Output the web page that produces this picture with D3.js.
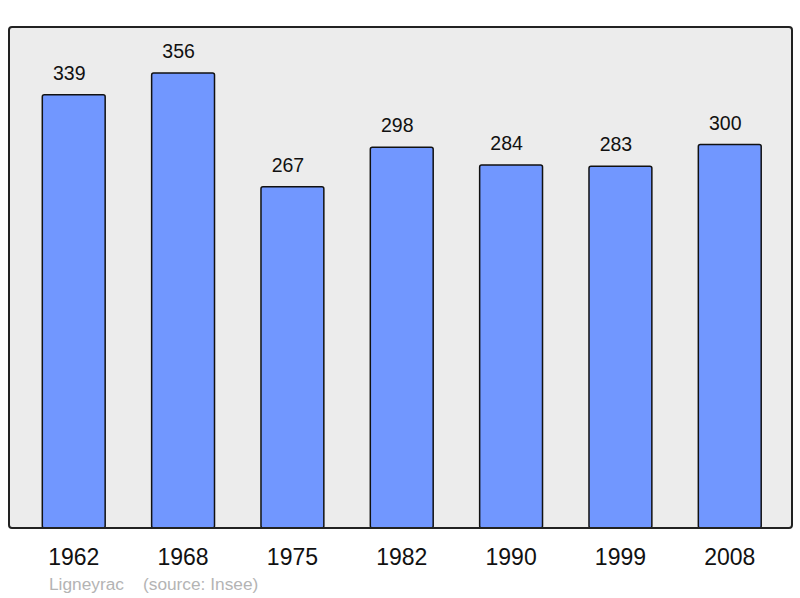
<!DOCTYPE html>
<html>
<head>
<meta charset="utf-8">
<script src="https://cdn.jsdelivr.net/npm/d3@7"></script>
<style>
  body { margin: 0; background: #fff; }
  text { font-family: "Liberation Sans", Arial, sans-serif; }
</style>
</head>
<body>
<script>
const years = ['1962', '1968', '1975', '1982', '1990', '1999', '2008'];
const population = [339, 356, 267, 298, 284, 283, 300];
const commune = 'Ligneyrac';
const source = '(source: Insee)';

const svgValues = {
    width: 800,
    height: 598,
    frame: { left: 9, right: 792, top: 27, bottom: 528 }
}

const svg = d3.select('body')
    .append('svg')
    .attr('width', svgValues.width)
    .attr('height', svgValues.height)

const f = svgValues.frame;

svg.append('rect') // plot background
    .attr('x', f.left)
    .attr('y', f.top)
    .attr('width', f.right - f.left)
    .attr('height', f.bottom - f.top)
    .attr('rx', 3)
    .style('fill', '#ececec')

const xScale = d3.scaleBand()
    .domain(years)
    .range([f.left + 0.5, f.right + 2])
    .paddingInner(0.425)
    .paddingOuter(0.3)

const yScale = d3.scaleLinear()
    .domain([0, 392])
    .range([f.bottom, f.top])

const data = years.map((y, i) => ({ year: y, value: population[i] }));

svg.selectAll('rect.bar')
    .data(data)
    .enter()
    .append('rect')
    .attr('class', 'bar')
    .attr('x', d => xScale(d.year))
    .attr('y', d => yScale(d.value))
    .attr('width', xScale.bandwidth())
    .attr('height', d => f.bottom - yScale(d.value))
    .attr('rx', 2)
    .style('fill', '#7197ff')
    .style('stroke', '#111')
    .style('stroke-width', 1.5)

svg.selectAll('text.value')
    .data(data)
    .enter()
    .append('text')
    .attr('class', 'value')
    .attr('x', d => xScale(d.year) + xScale.bandwidth() / 2 - 4.5)
    .attr('y', d => yScale(d.value) - 15)
    .attr('text-anchor', 'middle')
    .style('font-size', '19.5px')
    .style('fill', '#111')
    .text(d => d.value)

// frame border on top
svg.append('rect')
    .attr('x', f.left)
    .attr('y', f.top)
    .attr('width', f.right - f.left)
    .attr('height', f.bottom - f.top)
    .attr('rx', 3)
    .style('fill', 'none')
    .style('stroke', '#222')
    .style('stroke-width', 2)

const xAxis = d3.axisBottom(xScale).tickSize(0).tickPadding(0)

svg.append('g')
    .attr('transform', 'translate(0,' + f.bottom + ')')
    .call(xAxis)
    .call(g => g.select('.domain').remove())
    .selectAll('text')
    .attr('dy', null)
    .attr('y', 37)
    .style('font-family', '"Liberation Sans", Arial, sans-serif')
    .style('font-size', '23px')
    .style('fill', '#111')

svg.append('text') // footer
    .attr('x', 49)
    .attr('y', 590)
    .style('font-size', '17.3px')
    .style('fill', '#b4b4b4')
    .text(commune)

svg.append('text')
    .attr('x', 143)
    .attr('y', 590)
    .style('font-size', '17.3px')
    .style('fill', '#b4b4b4')
    .text(source)
</script>
</body>
</html>
